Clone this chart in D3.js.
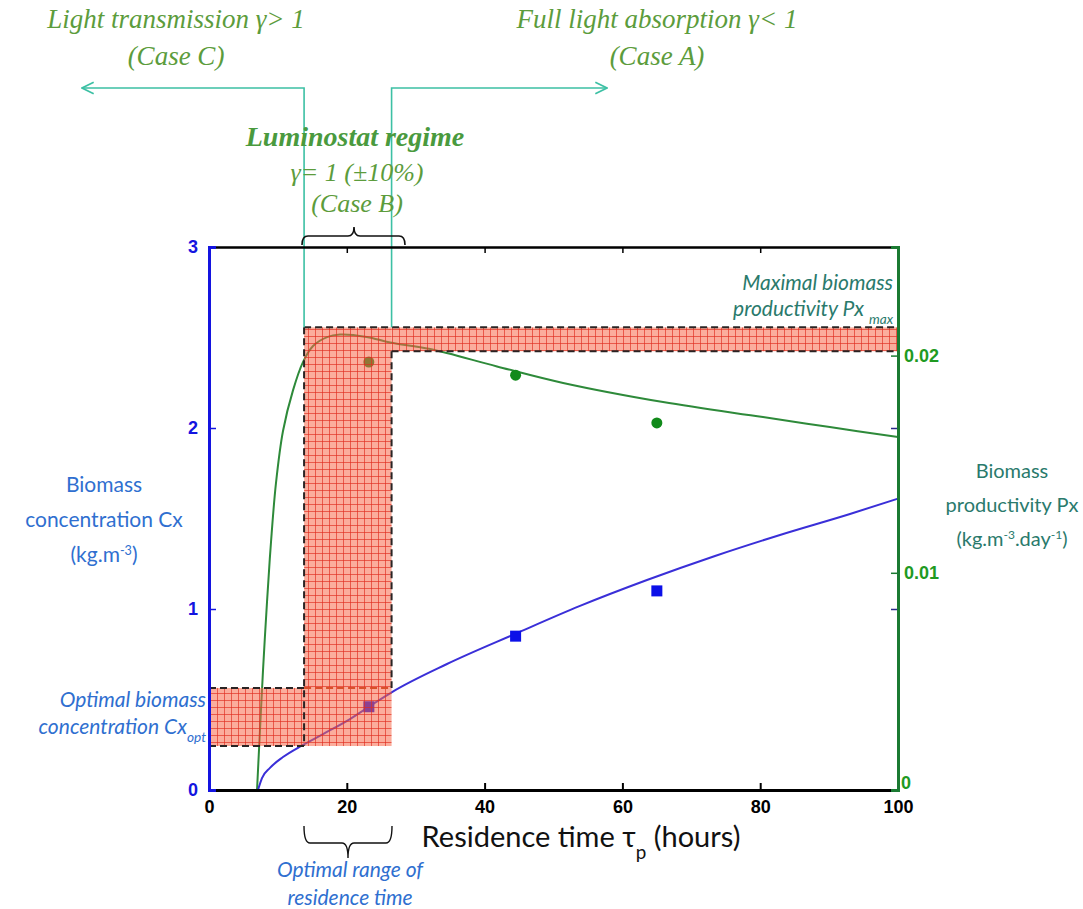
<!DOCTYPE html>
<html>
<head>
<meta charset="utf-8">
<script src="https://cdn.jsdelivr.net/npm/d3@7"></script>
<style>
  body { margin: 0; background: #fff; }
  svg { display: block; }
</style>
</head>
<body>
<svg id="chart" width="1083" height="909"></svg>
<script>
// ---- data ----
const xTicks = [0, 20, 40, 60, 80, 100];
const cxTicks = [0, 1, 2, 3];
const pxTicks = [0, 0.01, 0.02];

// model curve, biomass productivity Px (right axis)
const pxCurveTau = [6.97, 7.4, 7.84, 8.42, 9.0, 9.72, 10.74, 12.19, 13.64, 15.1, 17.13, 19.0, 22.9, 26.3, 32.1, 41.8, 51.4, 65.9, 80.4, 90.1, 100];
const pxCurveVal = [0, 0.00276, 0.00552, 0.00866, 0.01142, 0.01413, 0.01653, 0.0184, 0.0197, 0.02044, 0.02085, 0.02097, 0.02086, 0.0206, 0.0203, 0.0195, 0.01874, 0.01786, 0.01717, 0.01671, 0.01625];

// model curve, biomass concentration Cx (left axis)
const cxCurveTau = [7.11, 7.69, 8.85, 10.74, 13.64, 16.55, 20.46, 23.37, 26.56, 34.54, 44.41, 53.85, 63.57, 73.44, 82.87, 93.03, 100];
const cxCurveVal = [0, 0.066, 0.122, 0.182, 0.249, 0.309, 0.392, 0.464, 0.541, 0.696, 0.862, 1.017, 1.16, 1.293, 1.409, 1.525, 1.61];

// measured points
const pointTau = [23.2, 44.5, 65.0];
const cxPoints = [0.46, 0.85, 1.10];
const pxPoints = [0.0197, 0.0191, 0.0169];

// optimal zones
const optTau = [13.8, 26.5];     // optimal residence time range
const cxBandTau = [0, 26.3];
const cxOpt = [0.243, 0.564];    // optimal biomass concentration
const pxMax = [0.0202, 0.0213];  // maximal productivity band

// ---- scales ----
const x = d3.scaleLinear().domain([0, 100]).range([209, 898]);
const yCx = d3.scaleLinear().domain([0, 3]).range([790, 247]);
const yPx = d3.scaleLinear().domain([0, 0.025]).range([790, 247]);

const svg = d3.select('#chart');
const defs = svg.append('defs');

// red grid hatch
const pat = defs.append('pattern')
  .attr('id', 'hatch').attr('patternUnits', 'userSpaceOnUse')
  .attr('width', 7).attr('height', 7);
pat.append('rect').attr('width', 7).attr('height', 7).attr('fill', 'rgba(248,105,75,0.55)');
pat.append('path').attr('d', 'M0,0.5H7M0.5,0V7')
  .attr('stroke', 'rgba(225,45,30,0.65)').attr('stroke-width', 1).attr('fill', 'none');

defs.append('marker').attr('id', 'arr').attr('viewBox', '0 0 12 12')
  .attr('refX', 11).attr('refY', 6).attr('markerWidth', 14).attr('markerHeight', 14)
  .attr('markerUnits', 'userSpaceOnUse').attr('orient', 'auto')
  .append('path').attr('d', 'M1,1L11,6L1,11').attr('fill', 'none')
  .attr('stroke', '#3cc0a4').attr('stroke-width', 1.4);

// ---- curves ----
const pxLine = d3.line().x(d => x(d[0])).y(d => yPx(d[1])).curve(d3.curveCatmullRom.alpha(0.5));
const cxLine = d3.line().x(d => x(d[0])).y(d => yCx(d[1])).curve(d3.curveMonotoneX);

svg.append('path').datum(d3.zip(pxCurveTau, pxCurveVal))
  .attr('d', pxLine).attr('fill', 'none').attr('stroke', '#2e8a3a').attr('stroke-width', 2);
svg.append('path').datum(d3.zip(cxCurveTau, cxCurveVal))
  .attr('d', cxLine).attr('fill', 'none').attr('stroke', '#3a2fd8').attr('stroke-width', 2);

svg.selectAll('circle.px').data(d3.zip(pointTau, pxPoints)).enter().append('circle')
  .attr('cx', d => x(d[0])).attr('cy', d => yPx(d[1])).attr('r', 5.5).attr('fill', '#118a1a');
svg.selectAll('rect.cx').data(d3.zip(pointTau, cxPoints)).enter().append('rect')
  .attr('x', d => x(d[0]) - 5.5).attr('y', d => yCx(d[1]) - 5.5)
  .attr('width', 11).attr('height', 11).attr('fill', '#0c10e8');

// ---- hatched zones (drawn over the curves) ----
svg.append('rect')
  .attr('x', x(optTau[0])).attr('y', yPx(pxMax[1]))
  .attr('width', x(optTau[1]) - x(optTau[0])).attr('height', yCx(cxOpt[0]) - yPx(pxMax[1]))
  .attr('fill', 'url(#hatch)');
svg.append('rect')
  .attr('x', x(optTau[1])).attr('y', yPx(pxMax[1]))
  .attr('width', x(100) - x(optTau[1])).attr('height', yPx(pxMax[0]) - yPx(pxMax[1]))
  .attr('fill', 'url(#hatch)');
svg.append('rect')
  .attr('x', x(cxBandTau[0])).attr('y', yCx(cxOpt[1]))
  .attr('width', x(optTau[0]) - x(cxBandTau[0])).attr('height', yCx(cxOpt[0]) - yCx(cxOpt[1]))
  .attr('fill', 'url(#hatch)');

// dashed outlines
const dash = (x1, y1, x2, y2, col) => svg.append('line')
  .attr('x1', x1).attr('y1', y1).attr('x2', x2).attr('y2', y2)
  .attr('stroke', col || '#2a2424').attr('stroke-width', 2).attr('stroke-dasharray', '7,4');
dash(x(optTau[0]), yPx(pxMax[1]), x(100), yPx(pxMax[1]));
dash(x(optTau[1]), yPx(pxMax[0]), x(100), yPx(pxMax[0]));
dash(x(optTau[0]), yPx(pxMax[1]), x(optTau[0]), yCx(cxOpt[0]));
dash(x(optTau[1]), yPx(pxMax[0]), x(optTau[1]), yCx(cxOpt[1]));
dash(x(0), yCx(cxOpt[1]), x(optTau[0]), yCx(cxOpt[1]));
dash(x(optTau[0]), yCx(cxOpt[1]), x(cxBandTau[1]), yCx(cxOpt[1]), '#d8502a');
dash(x(0), yCx(cxOpt[0]), x(optTau[0]), yCx(cxOpt[0]));

// teal guide lines and arrows
const teal = '#3cc0a4';
const tealTop = 88;
svg.append('path').attr('d', `M${x(optTau[0])},${yPx(pxMax[1])}V${tealTop}H82`)
  .attr('fill', 'none').attr('stroke', teal).attr('stroke-width', 1.6).attr('marker-end', 'url(#arr)');
svg.append('path').attr('d', `M${x(optTau[1])},${yPx(pxMax[1])}V${tealTop}H607`)
  .attr('fill', 'none').attr('stroke', teal).attr('stroke-width', 1.6).attr('marker-end', 'url(#arr)');

// ---- axes ----
const tickFont = 'Liberation Sans, Arial, sans-serif';

const gBottom = svg.append('g').attr('transform', `translate(0,${yCx(0)})`)
  .call(d3.axisBottom(x).tickValues(xTicks).tickSize(-7).tickPadding(10));
gBottom.select('.domain').attr('stroke', '#000').attr('stroke-width', 3);
gBottom.selectAll('.tick line').attr('stroke', '#000').attr('stroke-width', 2);
gBottom.selectAll('.tick text').attr('font-family', tickFont).attr('font-size', 18)
  .attr('font-weight', 'bold').attr('fill', '#000');

const gTop = svg.append('g').attr('transform', `translate(0,${yCx(3)})`)
  .call(d3.axisTop(x).tickValues(xTicks.slice(1, -1)).tickSize(-6).tickFormat(''));
gTop.select('.domain').attr('stroke', '#000').attr('stroke-width', 2.5);
gTop.selectAll('.tick line').attr('stroke', '#000').attr('stroke-width', 1.5);

const gLeft = svg.append('g').attr('transform', `translate(${x(0)},0)`)
  .call(d3.axisLeft(yCx).tickValues(cxTicks).tickSize(-7).tickPadding(11).tickFormat(d3.format('d')));
gLeft.select('.domain').attr('stroke', '#1414e0').attr('stroke-width', 3);
gLeft.selectAll('.tick line').attr('stroke', '#1414e0').attr('stroke-width', 1.5);
gLeft.selectAll('.tick text').attr('font-family', tickFont).attr('font-size', 18)
  .attr('font-weight', 'bold').attr('fill', '#1414e0');

// left-axis ticks mirrored on the right side
svg.append('g').attr('transform', `translate(${x(100)},0)`)
  .call(d3.axisRight(yCx).tickValues(cxTicks.slice(1, -1)).tickSize(-7).tickFormat(''))
  .call(g => g.select('.domain').remove())
  .selectAll('.tick line').attr('stroke', '#2a2a8a').attr('stroke-width', 1.5);

const gRight = svg.append('g').attr('transform', `translate(${x(100)},0)`)
  .call(d3.axisRight(yPx).tickValues(pxTicks).tickSize(-7).tickPadding(6).tickFormat(d => d === 0 ? '0' : d3.format('.2f')(d)));
gRight.select('.domain').attr('stroke', '#1b7a32').attr('stroke-width', 3);
gRight.selectAll('.tick line').attr('stroke', '#1b7a32').attr('stroke-width', 1.5);
gRight.selectAll('.tick text').attr('font-family', tickFont).attr('font-size', 18)
  .attr('font-weight', 'bold').attr('fill', '#1f9a22');
gRight.selectAll('.tick text').filter(d => d === 0).attr('dy', '-0.1em').attr('x', 3);

// ---- brackets ----
svg.append('path')
  .attr('d', 'M302,245 Q302,236 308,236 H348 Q354,236 354,227 Q354,236 360,236 H399 Q405,236 405,245')
  .attr('fill', 'none').attr('stroke', '#111').attr('stroke-width', 1.6);
svg.append('path')
  .attr('d', 'M304,826 Q304,843 310,843 H342 Q348,843 348,858 Q348,843 354,843 H386 Q392,843 392,826')
  .attr('fill', 'none').attr('stroke', '#111').attr('stroke-width', 1.4);

// ---- text ----
function label(lines, cx, y0, dy, opts) {
  const t = svg.append('text').attr('text-anchor', opts.anchor || 'middle')
    .attr('font-family', opts.family).attr('font-size', opts.size)
    .attr('font-style', opts.style || 'normal').attr('font-weight', opts.weight || 'normal')
    .attr('fill', opts.fill);
  lines.forEach((l, i) => {
    const ts = t.append('tspan').attr('x', cx).attr('y', y0 + i * dy);
    if (Array.isArray(l)) {
      l.forEach(p => {
        const s = ts.append('tspan').text(p.t);
        if (p.sup) s.attr('baseline-shift', 'super').attr('font-size', opts.size * 0.6);
        if (p.sub) s.attr('baseline-shift', 'sub').attr('font-size', opts.size * 0.65);
      });
    } else ts.text(l);
  });
  return t;
}

const serif = 'Liberation Serif, DejaVu Serif, serif';
const sans = 'Lato, Open Sans, sans-serif';
const green = '#5c9c3c';

label(['Light transmission \u03B3> 1', '(Case C)'], 176, 28, 37,
  { family: serif, size: 27, style: 'italic', fill: green });
label(['Full light absorption \u03B3< 1', '(Case A)'], 657, 28, 37,
  { family: serif, size: 27, style: 'italic', fill: green });
label(['Luminostat regime'], 355, 146, 0,
  { family: serif, size: 28, style: 'italic', weight: 'bold', fill: '#4a9a3e' });
label(['\u03B3= 1 (\u00B110%)', '(Case B)'], 357, 181, 31,
  { family: serif, size: 26, style: 'italic', fill: green });

label(['Biomass', 'concentration Cx', [{ t: '(kg.m' }, { t: '-3', sup: true }, { t: ')' }]], 104, 492, 35,
  { family: sans, size: 21, fill: '#2f6fd0' });
label(['Biomass', [{ t: 'productivity Px' }], [{ t: '(kg.m' }, { t: '-3', sup: true }, { t: '.day' }, { t: '-1', sup: true }, { t: ')' }]], 1012, 478, 34,
  { family: sans, size: 20, fill: '#2a7a6c' });

label(['Maximal biomass', [{ t: 'productivity Px ' }, { t: 'max', sub: true }]], 893, 290, 26,
  { family: sans, size: 21, style: 'italic', fill: '#2a7a6c', anchor: 'end' });
label(['Optimal biomass', [{ t: 'concentration Cx' }, { t: 'opt', sub: true }]], 206, 707, 27,
  { family: sans, size: 21, style: 'italic', fill: '#2f6fd0', anchor: 'end' });
label(['Optimal range of', 'residence time'], 350, 877, 28,
  { family: sans, size: 21, style: 'italic', fill: '#2f6fd0' });

label([[{ t: 'Residence time \u03C4' }, { t: 'p', sub: true }, { t: ' (hours)' }]], 581, 847, 0,
  { family: sans, size: 29, fill: '#111' });
</script>
</body>
</html>
